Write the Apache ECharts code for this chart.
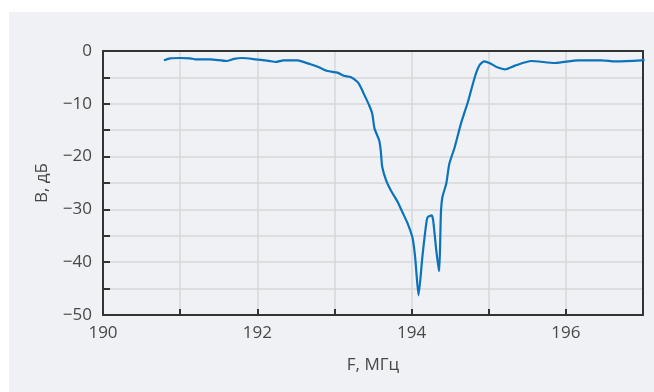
<!DOCTYPE html>
<html>
<head>
<meta charset="utf-8">
<script src="https://cdn.jsdelivr.net/npm/echarts@6/dist/echarts.min.js"></script>
<style>
  html, body { margin: 0; padding: 0; background: #ffffff; }
  #chart { width: 654px; height: 392px; }
</style>
</head>
<body>
<div id="chart"></div>
<script>
// Frequency, MHz
const freqMHz = [
  190.79, 190.87, 191.00, 191.13, 191.20, 191.39, 191.60, 191.70, 191.80, 191.98,
  192.15, 192.24, 192.34, 192.52, 192.69, 192.80, 192.91, 193.04, 193.12, 193.21,
  193.30, 193.34, 193.38, 193.45, 193.49, 193.52, 193.58, 193.60, 193.62, 193.67,
  193.73, 193.82, 193.88, 193.95, 194.01, 194.03, 194.05, 194.06, 194.09, 194.14,
  194.19, 194.21, 194.26, 194.28, 194.32, 194.35, 194.36, 194.38, 194.40, 194.45,
  194.49, 194.56, 194.64, 194.73, 194.82, 194.88, 194.94, 195.01, 195.12, 195.21,
  195.34, 195.55, 195.86, 196.16, 196.46, 196.64, 196.98, 197.02
];
// Transmission level, dB
const levelDb = [
  -1.76, -1.38, -1.33, -1.38, -1.57, -1.57, -1.89, -1.48, -1.33, -1.57,
  -1.86, -2.08, -1.76, -1.76, -2.52, -3.09, -3.79, -4.09, -4.70, -4.92,
  -5.87, -6.82, -8.07, -10.28, -11.86, -14.70, -16.91, -18.81, -21.97, -24.49,
  -26.38, -28.60, -30.49, -32.69, -35.23, -37.0, -39.6, -41.5, -46.27, -39.0,
  -32.69, -31.44, -31.12, -32.07, -37.75, -41.0, -41.67, -30.80, -27.65, -25.11,
  -21.33, -18.18, -13.75, -9.66, -4.92, -2.71, -1.95, -2.27, -3.14, -3.47,
  -2.77, -1.89, -2.27, -1.76, -1.76, -1.95, -1.76, -1.63
];
// Axis ranges and label steps
const xRange = [190, 197];
const xLabelStep = 2;
const yRange = [-50, 0];
const yLabelStep = 10;

const FONT = '"Open Sans", "Noto Sans", sans-serif';
const TEXT = '#484848';
const AXIS = '#333333';
const GRID = '#d6d7da';

const fmtMinus = v => (v < 0 ? '\u2212' + Math.abs(v) : String(v));

const chart = echarts.init(document.getElementById('chart'), null, { renderer: 'canvas' });

chart.setOption({
  animation: false,
  backgroundColor: '#ffffff',
  graphic: [{
    type: 'rect',
    z: -10,
    silent: true,
    shape: { x: 9, y: 12, width: 645, height: 380 },
    style: { fill: '#f0f1f4' }
  }],
  grid: { left: 103, top: 51, right: 11, bottom: 77, containLabel: false },
  xAxis: [{
    type: 'value',
    min: xRange[0], max: xRange[1], interval: 1,
    name: 'F, МГц', nameLocation: 'middle', nameGap: 42,
    nameTextStyle: { color: TEXT, fontFamily: FONT, fontSize: 17 },
    axisLine: { show: true, onZero: false, lineStyle: { color: AXIS, width: 2 } },
    axisTick: { show: true, inside: true, length: 6, lineStyle: { color: AXIS, width: 2 } },
    axisLabel: {
      color: TEXT, fontFamily: FONT, fontSize: 17, margin: 10,
      formatter: v => (Math.abs((v - xRange[0]) % xLabelStep) < 1e-9 ? String(v) : '')
    },
    splitLine: { show: true, lineStyle: { color: GRID, width: 1.5 } }
  }, {
    type: 'value', position: 'top',
    min: xRange[0], max: xRange[1],
    axisLine: { show: true, onZero: false, lineStyle: { color: AXIS, width: 2 } },
    axisTick: { show: false }, axisLabel: { show: false }, splitLine: { show: false }
  }],
  yAxis: [{
    type: 'value',
    min: yRange[0], max: yRange[1], interval: 5,
    name: 'В, дБ', nameLocation: 'middle', nameGap: 52, nameRotate: 90,
    nameTextStyle: { color: TEXT, fontFamily: FONT, fontSize: 17 },
    axisLine: { show: true, onZero: false, lineStyle: { color: AXIS, width: 2 } },
    axisTick: { show: true, inside: true, length: 7, lineStyle: { color: AXIS, width: 2 } },
    axisLabel: {
      color: TEXT, fontFamily: FONT, fontSize: 17, margin: 11,
      formatter: v => (Math.abs(v % yLabelStep) < 1e-9 ? fmtMinus(v) : '')
    },
    splitLine: { show: true, lineStyle: { color: GRID, width: 1.5 } }
  }, {
    type: 'value', position: 'right',
    min: yRange[0], max: yRange[1],
    axisLine: { show: true, onZero: false, lineStyle: { color: AXIS, width: 2 } },
    axisTick: { show: false }, axisLabel: { show: false }, splitLine: { show: false }
  }],
  series: [{
    type: 'line',
    xAxisIndex: 0, yAxisIndex: 0,
    data: freqMHz.map((f, i) => [f, levelDb[i]]),
    showSymbol: false,
    smooth: 0.2,
    lineStyle: { color: '#0b73bb', width: 2.2 },
    z: 5
  }]
});
</script>
</body>
</html>
